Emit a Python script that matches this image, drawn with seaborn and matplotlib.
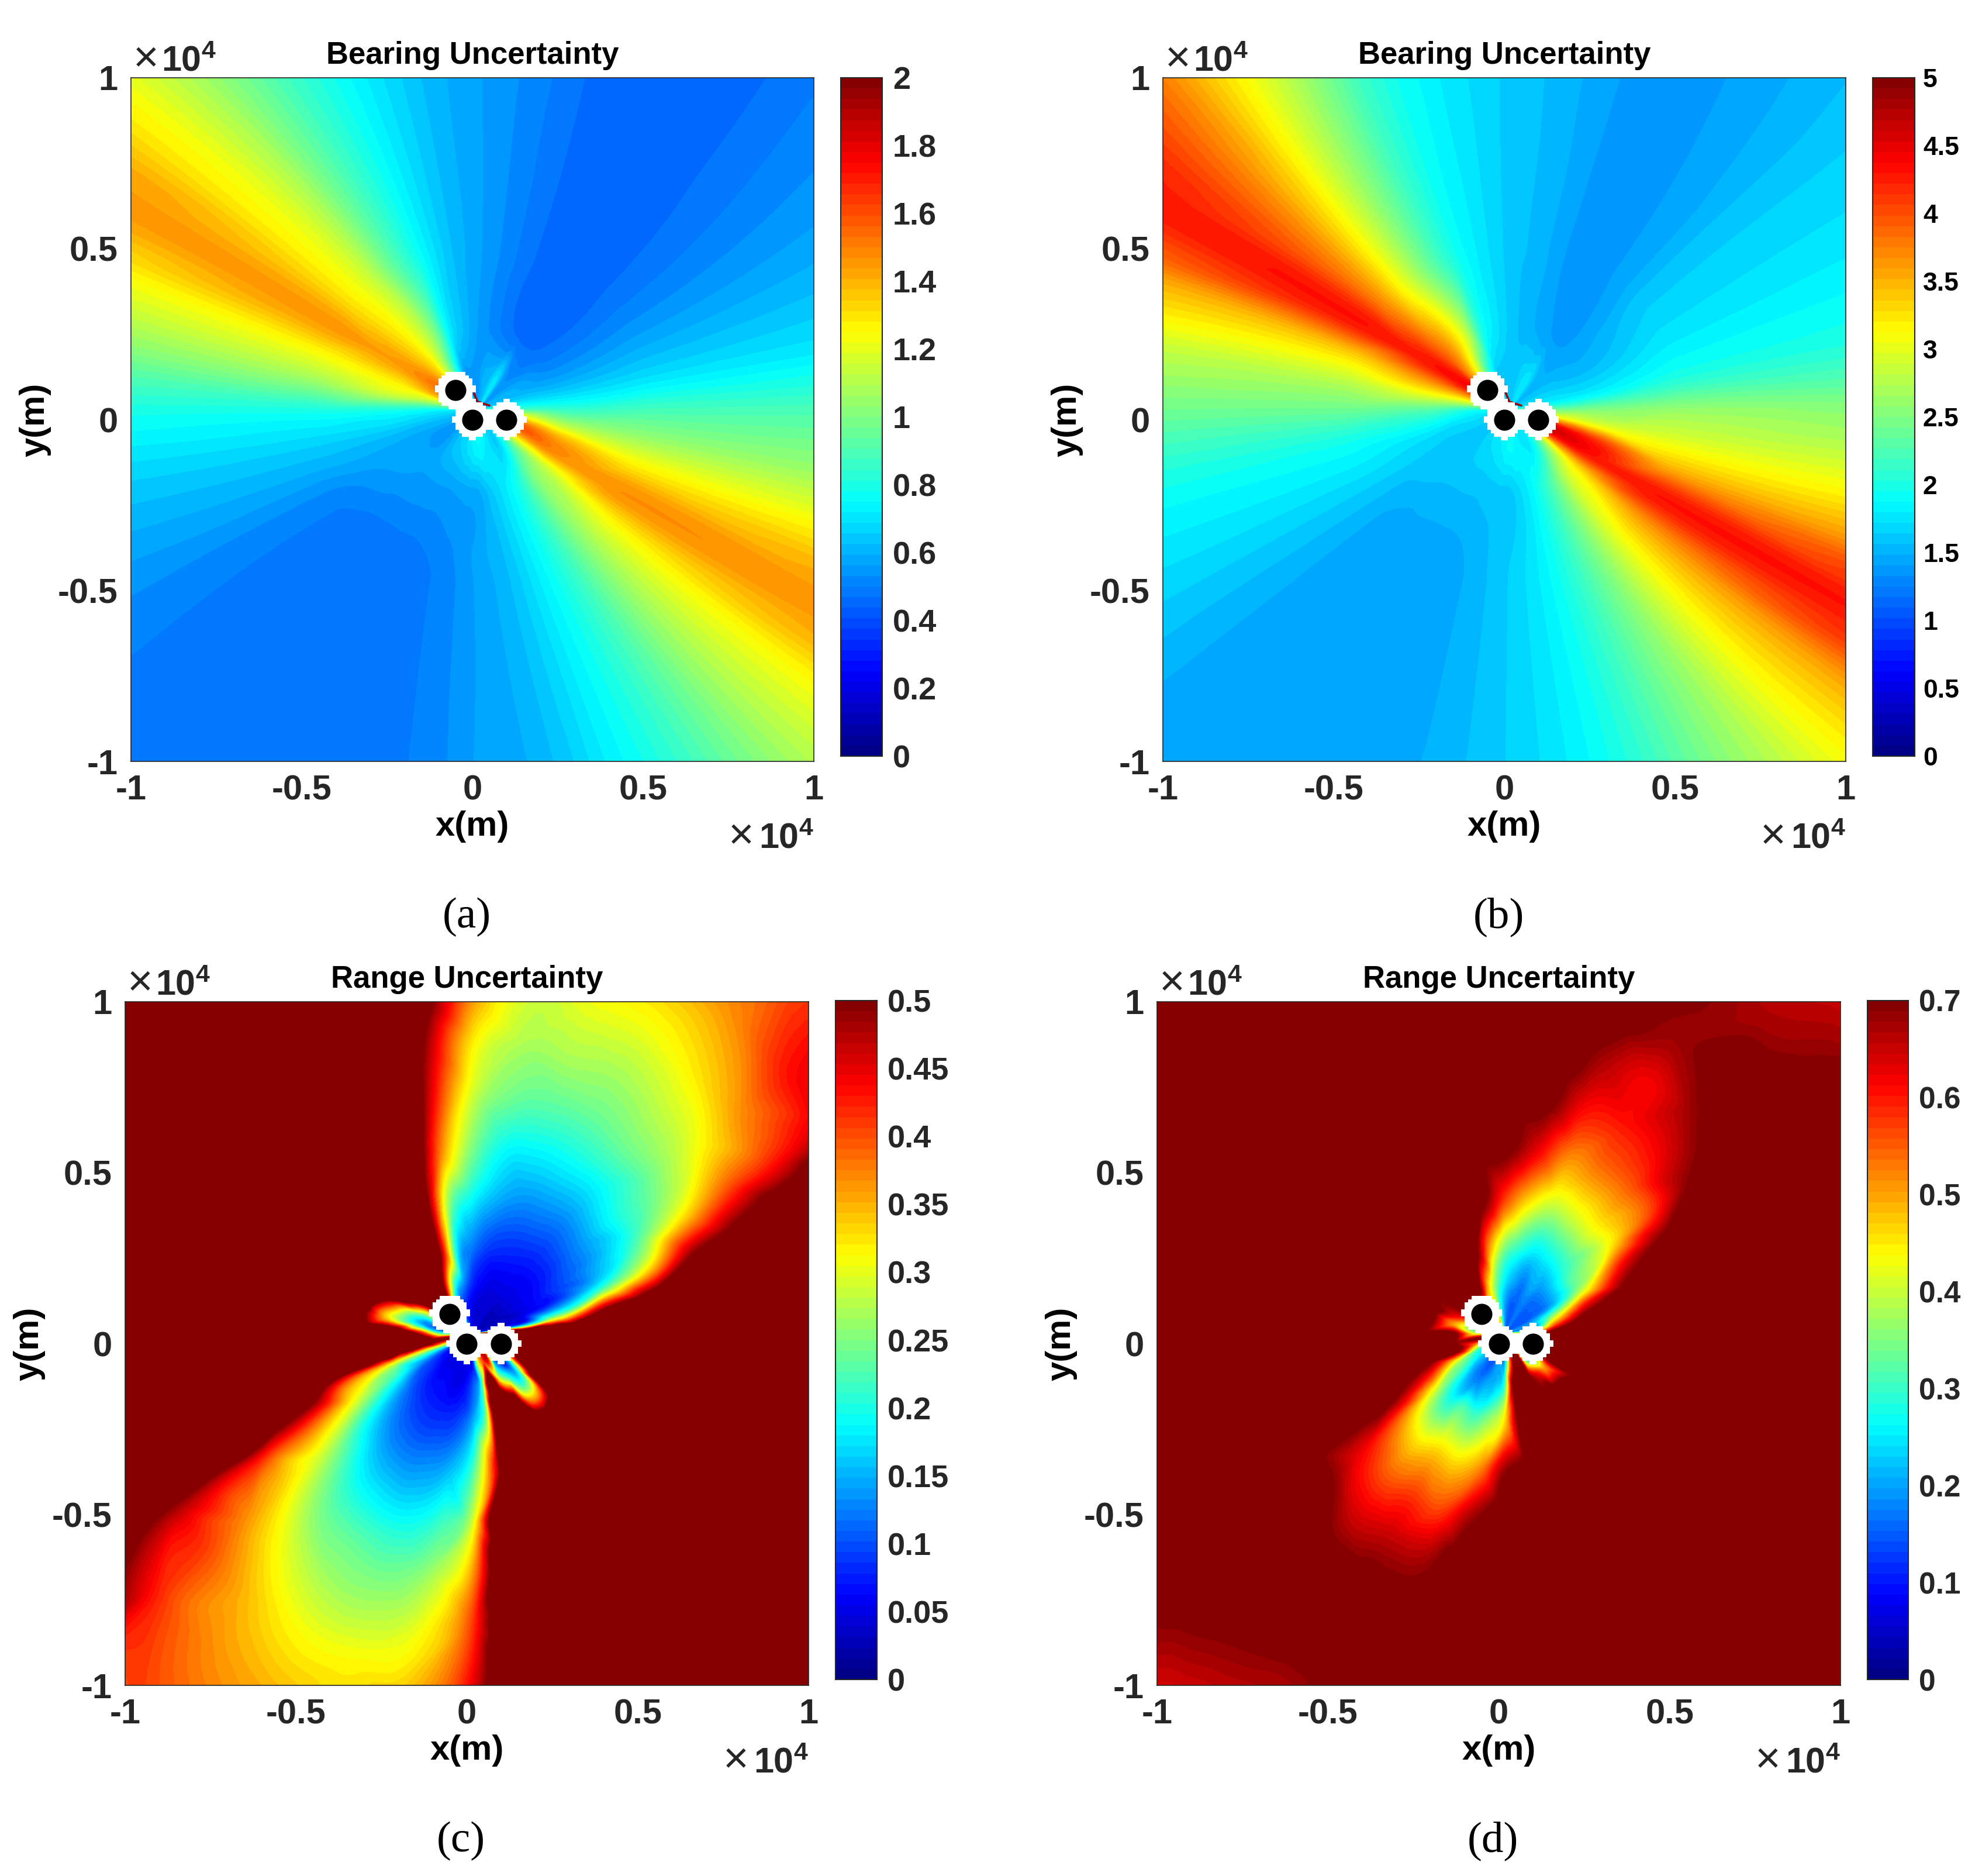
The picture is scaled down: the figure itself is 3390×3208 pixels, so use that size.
import numpy as np
import matplotlib
matplotlib.use('Agg')
import matplotlib.pyplot as plt
from matplotlib.colors import ListedColormap
from matplotlib.tri import Triangulation, CubicTriInterpolator
import seaborn as sns

sns.set_theme(style='white')
plt.rcParams['font.family'] = ['Liberation Sans', 'DejaVu Sans']
plt.rcParams['mathtext.default'] = 'regular'

W, H = 3391, 3208

# sensors, in units of 1e4 m
sensor_x = [-0.05, 0.0, 0.1]
sensor_y = [0.0866, 0.0, 0.0]
# thin bright sliver between the sensors in the bearing plots
gap_x = [0.003, 0.015, 0.05]
gap_y = [0.081, 0.052, 0.041]

# polar read-off around the centre of the sensors
center_x, center_y = 0.017, 0.029
angles = list(range(0, 360, 10))

# bearing uncertainty, panel (a): one list per radius, one value per angle
a_r010 = [.9, .7, .62, .6, .55, .55, .7, .62, .6, .55, .55, .55, .8, 1.1, 1.4, 1.55, 1.45, 1.1,
          .75, .65, .6, .55, .55, .6, .65, .68, .72, .75, .72, .68, .65, .8, 1.1, 1.45, 1.6, 1.3]
a_r025 = [.85, .68, .58, .52, .48, .46, .46, .48, .52, .56, .62, .72, 1.0, 1.2, 1.35, 1.45, 1.3, 1.15,
          .8, .68, .6, .58, .57, .56, .56, .56, .57, .58, .65, .72, .82, 1.0, 1.15, 1.47, 1.42, 1.1]
a_r050 = [.88, .7, .6, .53, .48, .45, .45, .47, .52, .57, .63, .75, .92, 1.15, 1.3, 1.45, 1.25, 1.05,
          .8, .68, .6, .52, .49, .48, .48, .49, .52, .57, .62, .72, .85, 1.05, 1.25, 1.47, 1.28, 1.05]
a_r145 = [.9, .71, .63, .57, .52, .47, .45, .45, .52, .56, .62, .72, .85, 1.05, 1.27, 1.45, 1.22, 1.0,
          .8, .66, .58, .52, .49, .48, .48, .48, .5, .57, .6, .72, .85, 1.03, 1.22, 1.45, 1.3, 1.05]

# bearing uncertainty, panel (b)
b_r010 = [2.4, 1.83, 1.7, 1.61, 1.54, 1.54, 1.76, 1.7, 1.61, 1.58, 1.58, 1.61, 2.0, 2.8, 3.6, 4.4, 3.8, 2.9,
          2.0, 1.76, 1.7, 1.61, 1.61, 1.65, 1.72, 1.76, 1.83, 1.9, 1.83, 1.78, 1.76, 2.1, 2.9, 4.3, 4.5, 3.2]
b_r025 = [2.5, 1.87, 1.65, 1.52, 1.46, 1.4, 1.4, 1.46, 1.53, 1.61, 1.76, 2.0, 2.8, 3.4, 3.9, 4.3, 3.7, 3.0,
          2.3, 1.93, 1.7, 1.62, 1.6, 1.58, 1.58, 1.58, 1.6, 1.61, 1.75, 1.97, 2.3, 2.8, 3.3, 4.3, 4.2, 3.0]
b_r050 = [2.6, 2.05, 1.83, 1.7, 1.6, 1.43, 1.38, 1.4, 1.53, 1.61, 1.76, 1.97, 2.4, 3.0, 3.7, 4.3, 3.4, 2.8,
          2.4, 2.0, 1.8, 1.62, 1.47, 1.44, 1.43, 1.45, 1.54, 1.65, 1.8, 2.05, 2.45, 3.0, 3.6, 4.3, 3.5, 2.95]
b_r145 = [2.5, 2.05, 1.87, 1.73, 1.62, 1.5, 1.4, 1.38, 1.5, 1.62, 1.76, 2.05, 2.65, 3.3, 4.0, 4.3, 3.6, 2.9,
          2.45, 2.05, 1.8, 1.62, 1.46, 1.44, 1.43, 1.44, 1.53, 1.65, 1.82, 2.1, 2.5, 2.9, 3.45, 4.3, 3.65, 3.0]

bearing_radii = [0.10, 0.25, 0.50, 1.50]

# range uncertainty: one row per angle, values outward along range_radii.
# Short rows stay saturated further out.
range_radii = [0.08, 0.15, 0.25, 0.40, 0.55, 0.70, 0.85, 1.00, 1.20, 1.50]
c_rows = [
    [.6, .8], [.1, .12, .3, .52, .6, .7], [.04, .05, .09, .2, .33, .5, .55, .6, .65, .7],
    [.03, .05, .08, .14, .22, .31, .39, .42, .47, .5],
    [.03, .05, .07, .13, .2, .25, .305, .36, .43, .44],
    [.03, .05, .07, .12, .18, .24, .28, .32, .37, .40],
    [.04, .05, .075, .125, .18, .23, .265, .3, .35, .42],
    [.04, .05, .08, .13, .18, .23, .27, .3, .34, .4],
    [.04, .06, .09, .15, .19, .24, .27, .29, .33, .4],
    [.05, .08, .12, .19, .25, .29, .32, .37, .42, .47],
    [.07, .13, .17, .26, .38, .45, .5, .56, .6, .6],
    [.1, .2, .44, .52, .6, .7], [.2, .42, .7], [.5, .7], [.6], [.5, .45, .7],
    [.3, .22, .42], [.1, .15, .33, .7], [.2, .45, .7], [.5, .6],
    [.3, .28, .32, .42, .6],
    [.1, .12, .2, .3, .39, .43, .46, .49, .55, .7],
    [.06, .08, .12, .19, .27, .32, .36, .40, .42, .43],
    [.05, .06, .09, .14, .2, .25, .3, .34, .37, .41],
    [.05, .06, .08, .125, .18, .235, .27, .31, .35, .41],
    [.05, .05, .08, .13, .18, .23, .27, .31, .34, .39],
    [.05, .06, .09, .15, .21, .26, .30, .33, .38, .43],
    [.07, .1, .14, .22, .29, .36, .41, .44, .48, .52],
    [.3, .2, .28, .45, .7], [.4, .6], [.45, .3, .7], [.1, .17, .36],
    [.12, .14, .38], [.3, .47], [.7], [.8],
]
d_rows = [
    [.5], [.2, .55, .76], [.2, .36, .6, .74],
    [.15, .2, .37, .62, .72, .75, .8, .8, .76, .72],
    [.15, .18, .32, .44, .56, .69, .74, .74, .7, .63],
    [.15, .18, .28, .43, .54, .62, .68, .72, .67, .62],
    [.17, .2, .26, .41, .53, .6, .62, .68, .69, .62],
    [.15, .17, .25, .4, .52, .61, .67, .72, .72, .7],
    [.15, .2, .29, .47, .63, .72, .75],
    [.2, .25, .35, .58, .72], [.3, .35, .5, .72], [.45, .5, .72], [.5, .72],
    [.7], [.72], [.7], [.5, .62], [.3, .5], [.4, .72], [.7], [.5, .72],
    [.3, .4, .58, .72],
    [.25, .3, .38, .53, .62, .72, .75, .75, .71, .66],
    [.2, .2, .28, .45, .56, .65, .72, .75, .69, .62],
    [.15, .17, .32, .47, .58, .66, .72, .72, .68, .65],
    [.15, .2, .3, .46, .57, .67, .72, .8, .75, .72],
    [.2, .22, .36, .52, .68, .75], [.2, .3, .45, .68, .75], [.5, .72],
    [.72], [.7], [.2, .6], [.2, .5], [.5, .72], [.8], [.8],
]

ticks = [-1, -0.5, 0, 0.5, 1]
tick_labels = ['-1', '-0.5', '0', '0.5', '1']
cbar_a = ['0', '0.2', '0.4', '0.6', '0.8', '1', '1.2', '1.4', '1.6', '1.8', '2']
cbar_b = ['0', '0.5', '1', '1.5', '2', '2.5', '3', '3.5', '4', '4.5', '5']
cbar_c = ['0', '0.05', '0.1', '0.15', '0.2', '0.25', '0.3', '0.35', '0.4', '0.45', '0.5']
cbar_d = ['0', '0.1', '0.2', '0.3', '0.4', '0.5', '0.6', '0.7']

TEXT = '#262626'

# the MATLAB version of jet, 64 steps
f = (np.arange(64) + 0.5) / 64
jet_rgb = np.column_stack([
    np.interp(f, [0, .375, .625, .875, 1], [0, 0, 1, 1, .5]),
    np.interp(f, [0, .125, .375, .625, .875, 1], [0, 0, 1, 1, 0, 0]),
    np.interp(f, [0, .125, .375, .625, 1], [.5, 1, 1, 0, 0]),
])
jet = ListedColormap(sns.color_palette(jet_rgb.tolist(), 64))
jet.set_over(jet(63))
jet_index = np.arange(64)[::-1].reshape(-1, 1)


def box(left, top, right, bottom):
    return [left / W, 1 - bottom / H, (right - left) / W, (bottom - top) / H]


def bearing_table(*columns):
    return np.array(columns).T


def range_table(rows):
    return np.array([r + [r[-1] if r[-1] > 0.65 else 0.8] * (len(range_radii) - len(r)) for r in rows])


def smooth_polar(table, radii):
    # contour drawing needs a smooth surface through the read-off table
    table = np.hstack([table[:, :1], table])
    rr = [0.0] + list(radii)
    na, nr = table.shape
    wrapped = np.vstack([table[-3:], table, table[:3]])
    ia, ir = np.meshgrid(np.arange(-3, na + 3), np.arange(nr), indexing='ij')
    surface = CubicTriInterpolator(Triangulation(ia.ravel(), ir.ravel()), wrapped.ravel(), kind='geom')
    fa, fr = np.meshgrid(np.linspace(0, na, na * 10 + 1), np.linspace(0, nr - 1 - 1e-6, (nr - 1) * 10 + 1), indexing='ij')
    z = surface(fa, fr).filled(np.nan)
    z = np.clip(z, 1e-4, None)
    th = np.deg2rad(fa * 10)
    r = np.interp(fr, np.arange(nr), rr)
    return center_x + r * np.cos(th), center_y + r * np.sin(th), z


def draw_panel(table, radii, vmax, title, caption, labels, ax_box, cbar_box, cbar_size, cbar_color, cbar_pad, show_gap):
    left, top, right, bottom = ax_box
    ax = fig.add_axes(box(*ax_box))

    x, y, z = smooth_polar(table, radii)
    ax.contourf(x, y, z, levels=np.linspace(0, vmax, 65), cmap=jet, extend='max')

    if show_gap:
        ax.plot(gap_x, gap_y, color='#a00000', lw=2.5, zorder=2)

    # blocked cells around the sensors, on a 100 m grid with corners on the origin
    g = (np.arange(-25, 25) + 0.5) * 0.01
    edges = np.arange(-25, 26) * 0.01
    gx, gy = np.meshgrid(g, g)
    near = np.zeros_like(gx, dtype=bool)
    for sx, sy in zip(sensor_x, sensor_y):
        near |= np.hypot(gx - sx, gy - sy) <= 0.056
    ax.pcolormesh(edges, edges, np.ma.masked_where(~near, np.ones_like(gx)),
                  cmap=ListedColormap(['white']), zorder=3)
    ax.scatter(sensor_x, sensor_y, s=676, color='black', linewidths=0, zorder=4)

    ax.set_xlim(-1, 1)
    ax.set_ylim(-1, 1)
    ax.set_xticks(ticks)
    ax.set_xticklabels(tick_labels)
    ax.set_yticks(ticks)
    ax.set_yticklabels(tick_labels)
    ax.tick_params(length=0, labelsize=43, labelcolor=TEXT, pad=16)
    for lab in ax.get_xticklabels() + ax.get_yticklabels():
        lab.set_fontweight('bold')
    for s in ax.spines.values():
        s.set_visible(True)
        s.set_linewidth(1.2)
        s.set_color(TEXT)

    mid_x = (left + right) / 2
    mid_y = (top + bottom) / 2
    fig.text(mid_x / W, 1 - (top - 24) / H, title, fontsize=38, fontweight='bold',
             color='black', ha='center', va='baseline')
    fig.text(mid_x / W, 1 - (bottom + 127) / H, 'x(m)', fontsize=43, fontweight='bold',
             color='black', ha='center', va='baseline')
    fig.text((left - 164) / W, 1 - mid_y / H, 'y(m)', fontsize=43, fontweight='bold', rotation=90,
             color='black', ha='center', va='center')
    # axis multipliers
    fig.text((left + 26) / W, 1 - (top - 11) / H, '×', fontsize=54, color=TEXT, ha='center', va='baseline')
    fig.text((left + 52) / W, 1 - (top - 11) / H, '$10^4$', fontsize=44, fontweight='bold', color=TEXT,
             ha='left', va='baseline')
    fig.text((right - 124) / W, 1 - (bottom + 149) / H, '×', fontsize=54, color=TEXT, ha='center', va='baseline')
    fig.text((right - 94) / W, 1 - (bottom + 149) / H, '$10^4$', fontsize=44, fontweight='bold', color=TEXT,
             ha='left', va='baseline')
    fig.text((mid_x - 10) / W, 1 - (bottom + 266) / H, caption, fontsize=54, color='black',
             family=['Liberation Serif'], ha='center', va='center')

    # colorbar, as a one-column heatmap of the 64 colours
    cax = fig.add_axes(box(*cbar_box))
    sns.heatmap(jet_index, cmap=jet, cbar=False, ax=cax, xticklabels=False, yticklabels=False)
    n = len(labels) - 1
    cax.yaxis.tick_right()
    cax.set_yticks([64 * (1 - i / n) for i in range(n + 1)])
    cax.set_yticklabels(labels, fontsize=cbar_size, fontweight='bold', color=cbar_color)
    cax.tick_params(axis='y', direction='in', length=9, width=1.5, color=TEXT, pad=cbar_pad, right=True)
    for s in cax.spines.values():
        s.set_visible(True)
        s.set_linewidth(1.5)
        s.set_color(TEXT)


fig = plt.figure(figsize=(W / 100, H / 100), dpi=100)

draw_panel(bearing_table(a_r010, a_r025, a_r050, a_r145), bearing_radii, 2, 'Bearing Uncertainty', '(a)', cbar_a,
           (224, 133, 1392, 1302), (1438, 133, 1509, 1293), 39, TEXT, 13, True)
draw_panel(bearing_table(b_r010, b_r025, b_r050, b_r145), bearing_radii, 5, 'Bearing Uncertainty', '(b)', cbar_b,
           (1989, 133, 3157, 1302), (3203, 133, 3275, 1293), 32, 'black', 10, True)
draw_panel(range_table(c_rows), range_radii, 0.5, 'Range Uncertainty', '(c)', cbar_c,
           (214, 1713, 1383, 2882), (1429, 1711, 1500, 2872), 39, TEXT, 13, False)
draw_panel(range_table(d_rows), range_radii, 0.7, 'Range Uncertainty', '(d)', cbar_d,
           (1979, 1713, 3148, 2882), (3194, 1711, 3264, 2872), 37, TEXT, 13, False)

fig.savefig('out.png', dpi=100)
